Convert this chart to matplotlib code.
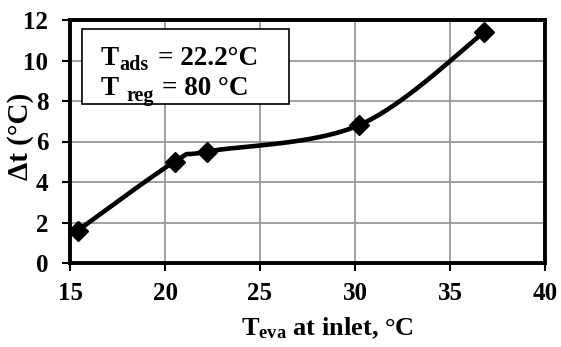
import numpy as np
import matplotlib
matplotlib.use("Agg")
import matplotlib.pyplot as plt
from matplotlib.patches import Rectangle

x_vals = [15.4, 20.5, 22.2, 30.2, 36.8]
y_vals = [1.6, 5.0, 5.5, 6.8, 11.4]
x_ticks = [15, 20, 25, 30, 35, 40]
y_ticks = [0, 2, 4, 6, 8, 10, 12]

plt.rcParams['font.family'] = 'Liberation Serif'
plt.rcParams['font.weight'] = 'bold'
plt.rcParams['mathtext.fontset'] = 'custom'
plt.rcParams['mathtext.rm'] = 'Liberation Serif:bold'
plt.rcParams['mathtext.it'] = 'Liberation Serif:bold'
plt.rcParams['mathtext.bf'] = 'Liberation Serif:bold'

def excel_smooth(xs, ys, n=40):
    P = np.column_stack([xs, ys]).astype(float)
    m = len(P)
    out = []
    for i in range(m - 1):
        p0 = P[i - 1] if i > 0 else P[i]
        p1 = P[i]
        p2 = P[i + 1]
        p3 = P[i + 2] if i + 2 < m else P[i + 1]
        c1 = p1 + (p2 - p0) / 6.0
        c2 = p2 - (p3 - p1) / 6.0
        t = np.linspace(0, 1, n)[:, None]
        seg = ((1 - t) ** 3) * p1 + 3 * ((1 - t) ** 2) * t * c1 + 3 * (1 - t) * t ** 2 * c2 + t ** 3 * p2
        out.append(seg if i == 0 else seg[1:])
    s = np.vstack(out)
    return s[:, 0], s[:, 1]

W, H = 561, 347
fig = plt.figure(figsize=(W / 100, H / 100), dpi=100)
ax = fig.add_axes([70 / W, 1 - 263 / H, 475 / W, 243 / H])

sx, sy = excel_smooth(x_vals, y_vals)
ax.plot(sx, sy, color='black', lw=3.3, zorder=3, solid_capstyle='round')
ax.plot(x_vals, y_vals, 'D', color='black', ms=10, zorder=4)

ax.set_xlim(15, 40)
ax.set_ylim(0, 12)
ax.set_xticks(x_ticks)
ax.set_yticks(y_ticks)
ax.grid(True, color='#999999', lw=1.3, zorder=0)
for sp in ax.spines.values():
    sp.set_linewidth(2.8)
    sp.set_zorder(5)
ax.tick_params(direction='out', length=5.5, width=1.5, labelsize=18)
ax.tick_params(axis='x', pad=8)
ax.tick_params(axis='y', pad=10)
for lbl in ax.get_xticklabels() + ax.get_yticklabels():
    lbl.set_fontweight('bold')

fig.text(327 / W, 1 - 335 / H, r'T$_{\mathrm{eva}}$ at inlet, °C', fontsize=19,
         fontweight='bold', ha='center', va='baseline')
fig.text(21 / W, 1 - 136 / H, 'Δt (°C)', fontsize=21, fontweight='bold',
         rotation=90, ha='center', va='center')

rect = Rectangle((12 / 475, 1 - 104 / 243 + 20 / 243), 207 / 475, 75 / 243,
                 transform=ax.transAxes, facecolor='white', edgecolor='black', lw=1.2, zorder=5)
ax.add_patch(rect)

def ftxt(px, py, s, size):
    fig.text(px / W, 1 - py / H, s, fontsize=size, fontweight='bold',
             ha='left', va='baseline', zorder=6)

ftxt(101, 65, 'T', 19.5)
ftxt(119, 70, 'ads', 14.5)
ftxt(158, 65, '= 22.2°C', 19.5)
ftxt(101, 95, 'T', 19.5)
ftxt(126, 101, 'reg', 14.5)
ftxt(162, 95, '= 80 °C', 19.5)

fig.savefig('out.png', dpi=100)
